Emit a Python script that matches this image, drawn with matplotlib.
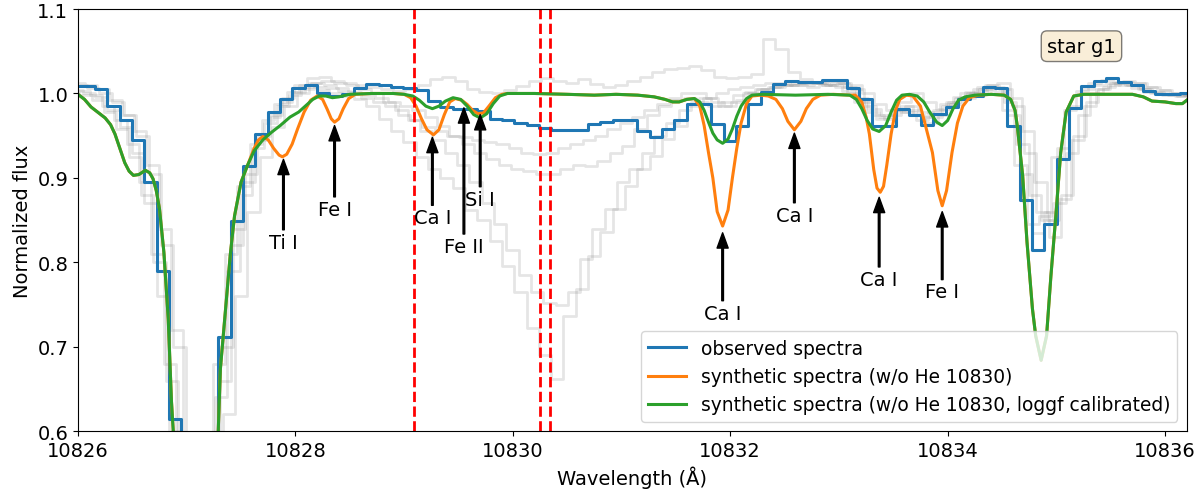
import numpy as np
import matplotlib
matplotlib.use("Agg")
import matplotlib.pyplot as plt

plt.rcParams.update({
    "font.size": 14,
    "axes.labelsize": 14,
    "xtick.labelsize": 14,
    "ytick.labelsize": 14,
    "legend.fontsize": 13.4,
})

# --- observed spectrum (binned, bin centres on a regular grid) ---
obs_start = 10825.986
obs_step = 0.11342
obs_flux = [
    1.009, 1.009, 1.005, 0.985, 0.968, 0.945, 0.895, 0.790, 0.614, 0.450,
    0.400, 0.480, 0.711, 0.849, 0.914, 0.952, 0.978, 0.994, 1.006, 1.010,
    1.001, 0.997, 0.999, 1.006, 1.011, 1.010, 1.008, 1.006, 1.004, 0.991,
    0.984, 0.982, 0.982, 0.979, 0.970, 0.968, 0.965, 0.963, 0.959, 0.957,
    0.957, 0.957, 0.964, 0.966, 0.968, 0.968, 0.956, 0.948, 0.958, 0.968,
    0.987, 0.987, 0.964, 0.944, 0.962, 0.988, 1.002, 1.011, 1.015, 1.014,
    1.014, 1.016, 1.016, 1.006, 0.993, 0.962, 0.962, 0.982, 0.974, 0.963,
    0.976, 0.984, 0.993, 0.997, 1.008, 1.007, 0.961, 0.874, 0.815, 0.846,
    0.922, 0.983, 1.009, 1.015, 1.018, 1.013, 1.010, 1.003, 0.999, 0.999,
    1.000, 1.000,
]

# --- comparison spectra (grey), same binning, small wavelength shifts ---
grey_shifts = [0.0, 0.04, -0.03, 0.02, -0.05]
grey_fluxes = [
    [1.004, 1.000, 0.996, 0.980, 0.960, 0.930, 0.870, 0.760, 0.600, 0.450,
     0.400, 0.520, 0.660, 0.820, 0.895, 0.945, 0.972, 0.990, 1.002, 1.008,
     1.004, 1.000, 0.997, 0.993, 0.985, 0.970, 0.955, 0.942, 0.925, 0.910,
     0.900, 0.888, 0.862, 0.850, 0.825, 0.796, 0.765, 0.722, 0.690, 0.662,
     0.737, 0.769, 0.808, 0.836, 0.863, 0.890, 0.911, 0.926, 0.946, 0.961,
     0.985, 0.995, 0.990, 0.985, 0.992, 1.000, 1.005, 1.008, 1.010, 1.012,
     1.012, 1.010, 1.008, 1.000, 0.990, 0.975, 0.970, 0.978, 0.980, 0.972,
     0.980, 0.990, 0.995, 1.000, 1.004, 1.002, 0.975, 0.905, 0.835, 0.860,
     0.935, 0.985, 1.005, 1.010, 1.012, 1.010, 1.006, 1.002, 1.000, 0.998,
     0.998, 1.000],
    [1.010, 1.006, 1.000, 0.990, 0.975, 0.950, 0.905, 0.820, 0.700, 0.550,
     0.450, 0.500, 0.620, 0.760, 0.860, 0.925, 0.960, 0.985, 1.000, 1.012,
     1.015, 1.012, 1.010, 1.005, 1.000, 0.990, 0.980, 0.968, 0.955, 0.945,
     0.930, 0.915, 0.895, 0.870, 0.845, 0.815, 0.785, 0.765, 0.752, 0.750,
     0.765, 0.804, 0.840, 0.863, 0.895, 0.911, 0.930, 0.950, 0.965, 0.980,
     0.990, 0.995, 1.000, 1.005, 1.008, 1.010, 1.012, 1.012, 1.010, 1.010,
     1.012, 1.015, 1.012, 1.005, 0.985, 0.970, 0.975, 0.985, 0.975, 0.965,
     0.975, 0.988, 0.995, 1.002, 1.010, 1.005, 0.985, 0.930, 0.860, 0.830,
     0.880, 0.950, 0.990, 1.005, 1.012, 1.015, 1.012, 1.008, 1.004, 1.000,
     0.998, 0.998],
    [1.000, 0.998, 0.992, 0.978, 0.958, 0.925, 0.880, 0.800, 0.660, 0.500,
     0.420, 0.480, 0.640, 0.790, 0.880, 0.935, 0.965, 0.985, 0.998, 1.005,
     1.008, 1.006, 1.003, 1.000, 0.998, 0.995, 0.990, 0.985, 0.980, 0.972,
     0.962, 0.950, 0.940, 0.930, 0.922, 0.915, 0.910, 0.908, 0.905, 0.905,
     0.910, 0.915, 0.914, 0.920, 0.930, 0.938, 0.958, 0.975, 0.985, 0.992,
     0.995, 0.990, 0.985, 0.990, 0.998, 1.002, 1.005, 1.008, 1.010, 1.010,
     1.008, 1.010, 1.012, 1.008, 0.995, 0.982, 0.975, 0.980, 0.985, 0.978,
     0.972, 0.985, 0.995, 1.000, 1.005, 1.008, 0.990, 0.940, 0.880, 0.850,
     0.870, 0.930, 0.975, 1.000, 1.008, 1.012, 1.010, 1.005, 1.002, 0.999,
     0.997, 0.998],
    [1.012, 1.010, 1.005, 0.992, 0.975, 0.955, 0.915, 0.840, 0.720, 0.580,
     0.480, 0.530, 0.700, 0.840, 0.905, 0.950, 0.975, 0.995, 1.010, 1.018,
     1.020, 1.015, 1.012, 1.010, 1.008, 1.005, 1.003, 1.005, 1.010, 1.017,
     1.020, 1.015, 1.005, 1.002, 1.000, 1.004, 1.009, 1.015, 1.018, 1.015,
     1.012, 1.017, 1.011, 1.008, 1.010, 1.015, 1.020, 1.025, 1.029, 1.030,
     1.033, 1.028, 1.020, 1.018, 1.020, 1.023, 1.064, 1.053, 1.025, 1.017,
     1.012, 1.010, 1.012, 1.010, 1.000, 0.988, 0.980, 0.990, 1.000, 0.990,
     0.982, 0.990, 1.000, 1.005, 1.010, 1.012, 0.995, 0.955, 0.895, 0.850,
     0.875, 0.945, 0.985, 1.005, 1.010, 1.014, 1.012, 1.008, 1.004, 1.001,
     0.999, 1.000],
    [1.006, 1.003, 0.998, 0.985, 0.968, 0.940, 0.895, 0.810, 0.680, 0.520,
     0.440, 0.500, 0.680, 0.810, 0.890, 0.940, 0.968, 0.988, 1.002, 1.010,
     1.012, 1.010, 1.006, 1.002, 0.995, 0.990, 0.985, 0.975, 0.968, 0.960,
     0.955, 0.950, 0.948, 0.945, 0.942, 0.940, 0.935, 0.930, 0.928, 0.930,
     0.935, 0.940, 0.945, 0.950, 0.958, 0.965, 0.972, 0.980, 0.988, 0.995,
     1.000, 1.000, 0.995, 0.985, 0.990, 1.000, 1.005, 1.008, 1.010, 1.012,
     1.014, 1.012, 1.010, 1.003, 0.990, 0.978, 0.972, 0.982, 0.978, 0.968,
     0.978, 0.988, 0.996, 1.002, 1.008, 1.006, 0.980, 0.915, 0.845, 0.855,
     0.925, 0.980, 1.003, 1.012, 1.016, 1.014, 1.010, 1.005, 1.001, 0.998,
     0.997, 0.999],
]

# --- synthetic spectrum, loggf calibrated (green) ---
syn_cal_wl = [
    10826.00, 10826.06, 10826.12, 10826.19, 10826.25, 10826.30, 10826.34, 10826.38,
    10826.43, 10826.47, 10826.51, 10826.56, 10826.62, 10826.66, 10826.69, 10826.72,
    10826.75, 10826.79, 10826.83, 10826.86, 10826.90, 10826.95, 10827.02, 10827.10,
    10827.17, 10827.23, 10827.27, 10827.29, 10827.31, 10827.35, 10827.40, 10827.44,
    10827.50, 10827.56, 10827.62, 10827.70, 10827.78, 10827.86, 10827.95, 10828.03,
    10828.10, 10828.16, 10828.22, 10828.28, 10828.34, 10828.40, 10828.50, 10828.70,
    10828.90, 10829.00, 10829.08, 10829.14, 10829.20, 10829.26, 10829.32, 10829.38,
    10829.45, 10829.52, 10829.58, 10829.64, 10829.70, 10829.76, 10829.82, 10829.88,
    10829.95, 10830.20, 10830.50, 10830.75, 10830.95, 10831.15, 10831.30, 10831.40,
    10831.47, 10831.53, 10831.60, 10831.67, 10831.72, 10831.76, 10831.80, 10831.84,
    10831.88, 10831.93, 10831.98, 10832.02, 10832.06, 10832.10, 10832.15, 10832.20,
    10832.30, 10832.60, 10832.90, 10833.10, 10833.16, 10833.21, 10833.26, 10833.31,
    10833.37, 10833.43, 10833.48, 10833.53, 10833.58, 10833.65, 10833.72, 10833.78,
    10833.84, 10833.90, 10833.95, 10834.00, 10834.05, 10834.10, 10834.16, 10834.25,
    10834.40, 10834.52, 10834.58, 10834.62, 10834.64, 10834.69, 10834.73, 10834.78,
    10834.81, 10834.86, 10834.91, 10834.95, 10835.00, 10835.04, 10835.09, 10835.16,
    10835.25, 10835.45, 10835.70, 10835.80, 10835.88, 10836.00, 10836.10, 10836.16,
    10836.22,
]
syn_cal_flux = [
    0.999, 0.993, 0.984, 0.977, 0.971, 0.963, 0.952, 0.937,
    0.918, 0.908, 0.903, 0.904, 0.909, 0.906, 0.899, 0.885,
    0.863, 0.812, 0.733, 0.635, 0.550, 0.480, 0.420, 0.400,
    0.440, 0.520, 0.570, 0.600, 0.674, 0.733, 0.808, 0.855,
    0.895, 0.915, 0.932, 0.945, 0.954, 0.962, 0.972, 0.978,
    0.986, 0.993, 0.997, 0.997, 0.995, 0.996, 0.999, 1.000,
    1.000, 0.999, 0.997, 0.992, 0.985, 0.982, 0.985, 0.991,
    0.995, 0.993, 0.985, 0.975, 0.971, 0.976, 0.988, 0.997,
    1.000, 1.000, 0.999, 0.998, 0.999, 0.998, 0.996, 0.993,
    0.990, 0.990, 0.993, 0.994, 0.990, 0.980, 0.966, 0.953,
    0.945, 0.941, 0.946, 0.958, 0.973, 0.985, 0.994, 0.998,
    0.999, 0.998, 0.999, 0.998, 0.993, 0.982, 0.968, 0.958,
    0.955, 0.962, 0.978, 0.992, 0.998, 0.999, 0.997, 0.990,
    0.977, 0.966, 0.962, 0.968, 0.982, 0.992, 0.996, 0.998,
    0.999, 0.998, 0.993, 0.980, 0.962, 0.903, 0.824, 0.745,
    0.713, 0.684, 0.713, 0.784, 0.863, 0.930, 0.978, 0.997,
    0.999, 0.999, 0.999, 0.996, 0.991, 0.990, 0.988, 0.988,
    0.994,
]

# --- synthetic spectrum, original loggf (orange) ---
syn_wl = [
    10826.00, 10826.06, 10826.12, 10826.19, 10826.25, 10826.30, 10826.34, 10826.38,
    10826.43, 10826.47, 10826.51, 10826.56, 10826.62, 10826.66, 10826.69, 10826.72,
    10826.75, 10826.79, 10826.83, 10826.86, 10826.90, 10826.95, 10827.02, 10827.10,
    10827.17, 10827.23, 10827.27, 10827.29, 10827.31, 10827.35, 10827.40, 10827.44,
    10827.50, 10827.56, 10827.62, 10827.66, 10827.70, 10827.75, 10827.80, 10827.85,
    10827.88, 10827.92, 10827.97, 10828.02, 10828.08, 10828.14, 10828.20, 10828.25,
    10828.29, 10828.33, 10828.36, 10828.40, 10828.44, 10828.49, 10828.55, 10828.70,
    10828.90, 10829.00, 10829.06, 10829.11, 10829.16, 10829.21, 10829.27, 10829.32,
    10829.37, 10829.42, 10829.47, 10829.53, 10829.58, 10829.63, 10829.68, 10829.73,
    10829.78, 10829.84, 10829.90, 10829.95, 10830.20, 10830.50, 10830.75, 10830.95,
    10831.15, 10831.30, 10831.40, 10831.47, 10831.53, 10831.60, 10831.67, 10831.72,
    10831.76, 10831.80, 10831.84, 10831.88, 10831.93, 10831.98, 10832.02, 10832.06,
    10832.10, 10832.15, 10832.20, 10832.28, 10832.35, 10832.42, 10832.48, 10832.53,
    10832.59, 10832.65, 10832.70, 10832.76, 10832.83, 10832.95, 10833.10, 10833.15,
    10833.21, 10833.25, 10833.28, 10833.32, 10833.35, 10833.38, 10833.41, 10833.44,
    10833.48, 10833.52, 10833.56, 10833.62, 10833.68, 10833.75, 10833.80, 10833.86,
    10833.91, 10833.95, 10833.99, 10834.04, 10834.09, 10834.14, 10834.20, 10834.28,
    10834.40, 10834.52, 10834.58, 10834.62, 10834.64, 10834.69, 10834.73, 10834.78,
    10834.81, 10834.86, 10834.91, 10834.95, 10835.00, 10835.04, 10835.09, 10835.16,
    10835.25, 10835.45, 10835.70, 10835.80, 10835.88, 10836.00, 10836.10, 10836.16,
    10836.22,
]
syn_flux = [
    0.999, 0.993, 0.984, 0.977, 0.971, 0.963, 0.952, 0.937,
    0.918, 0.908, 0.903, 0.904, 0.909, 0.906, 0.899, 0.885,
    0.863, 0.812, 0.733, 0.635, 0.550, 0.480, 0.420, 0.400,
    0.440, 0.520, 0.570, 0.600, 0.674, 0.733, 0.808, 0.855,
    0.895, 0.915, 0.935, 0.945, 0.949, 0.945, 0.935, 0.927,
    0.925, 0.928, 0.940, 0.958, 0.978, 0.992, 0.997, 0.993,
    0.982, 0.970, 0.966, 0.970, 0.982, 0.994, 0.999, 1.000,
    1.000, 0.999, 0.995, 0.985, 0.970, 0.957, 0.951, 0.957,
    0.975, 0.990, 0.994, 0.992, 0.987, 0.980, 0.976, 0.977,
    0.985, 0.995, 0.999, 1.000, 1.000, 0.999, 0.998, 0.999,
    0.998, 0.996, 0.993, 0.990, 0.990, 0.993, 0.994, 0.985,
    0.962, 0.930, 0.900, 0.860, 0.843, 0.862, 0.900, 0.935,
    0.965, 0.988, 0.997, 0.998, 0.997, 0.993, 0.982, 0.967,
    0.957, 0.967, 0.982, 0.993, 0.998, 0.999, 0.998, 0.998,
    0.990, 0.972, 0.952, 0.910, 0.888, 0.883, 0.890, 0.915,
    0.952, 0.980, 0.993, 0.998, 0.997, 0.985, 0.960, 0.930,
    0.885, 0.867, 0.885, 0.930, 0.965, 0.985, 0.995, 0.998,
    0.999, 0.998, 0.993, 0.980, 0.962, 0.903, 0.824, 0.745,
    0.713, 0.684, 0.713, 0.784, 0.863, 0.930, 0.978, 0.997,
    0.999, 0.999, 0.999, 0.996, 0.991, 0.990, 0.988, 0.988,
    0.994,
]

# He I 10830 triplet components
he_lines = [10829.09, 10830.25, 10830.34]

# line identifications: label, wavelength, arrow tip, text centre
line_labels = ["Ti I", "Fe I", "Ca I", "Fe II", "Si I", "Ca I", "Ca I", "Ca I", "Fe I"]
line_wl = [10827.89, 10828.36, 10829.26, 10829.55, 10829.70, 10831.93, 10832.59, 10833.37, 10833.95]
line_tip = [0.922, 0.962, 0.948, 0.983, 0.975, 0.835, 0.953, 0.877, 0.860]
line_text_y = [0.824, 0.863, 0.853, 0.819, 0.875, 0.740, 0.856, 0.780, 0.765]

fig, ax = plt.subplots(figsize=(12, 5.02), dpi=100)
fig.subplots_adjust(left=0.065, right=0.989, top=0.980, bottom=0.139)

for shift, flux in zip(grey_shifts, grey_fluxes):
    wl = obs_start + shift + obs_step * np.arange(len(flux))
    ax.step(wl, flux, where="mid", color="grey", alpha=0.2, lw=2)

obs_wl = obs_start + obs_step * np.arange(len(obs_flux))
ax.step(obs_wl, obs_flux, where="mid", color="tab:blue", lw=2.2, label="observed spectra")
ax.plot(syn_wl, syn_flux, color="tab:orange", lw=2.2,
        label="synthetic spectra (w/o He 10830)")
ax.plot(syn_cal_wl, syn_cal_flux, color="tab:green", lw=2.2,
        label="synthetic spectra (w/o He 10830, loggf calibrated)")

for w in he_lines:
    ax.axvline(w, color="red", linestyle="--", lw=2)

for lab, w, tip, ty in zip(line_labels, line_wl, line_tip, line_text_y):
    ax.annotate(lab, xy=(w, tip), xytext=(w, ty), ha="center", va="center",
                arrowprops=dict(facecolor="black", edgecolor="black",
                                width=1.2, headwidth=8, headlength=11, shrink=0.0))

ax.text(0.905, 0.912, "star g1", transform=ax.transAxes, ha="center", va="center",
        bbox=dict(boxstyle="round", facecolor="wheat", alpha=0.5))

ax.set_xlim(10826, 10836.2)
ax.set_ylim(0.6, 1.1)
ax.ticklabel_format(axis="x", useOffset=False)
ax.set_xlabel("Wavelength (Å)")
ax.set_ylabel("Normalized flux")
ax.legend(loc="lower right")

plt.savefig("out.png", dpi=100)
